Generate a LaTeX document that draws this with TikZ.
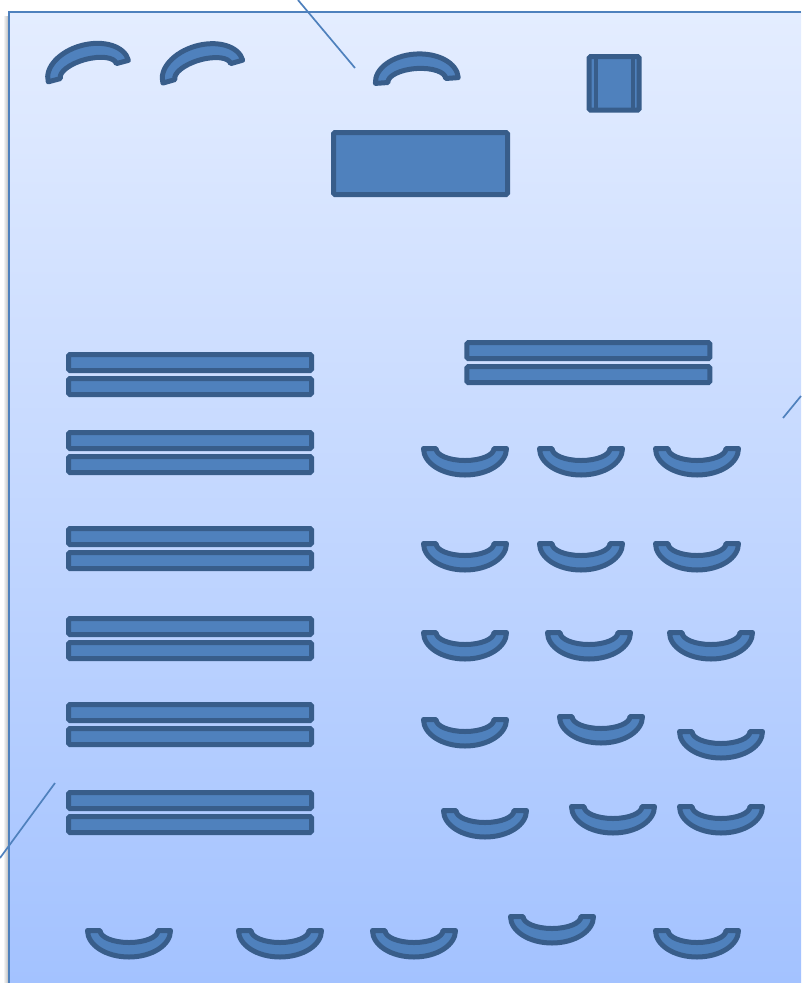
\documentclass[tikz,border=0pt]{standalone}
\definecolor{shapefill}{HTML}{4F81BD}
\definecolor{shapeline}{HTML}{385D8A}
\definecolor{frameline}{HTML}{4F81BD}
\definecolor{bgtop}{HTML}{E4EDFF}
\definecolor{bgbottom}{HTML}{A3C2FF}
\begin{document}
\begin{tikzpicture}[x=1pt,y=-1pt,
  shapestyle/.style={fill=shapefill, draw=shapeline, line width=5pt, line join=round},
  barstyle/.style={fill=shapefill, draw=shapeline, line width=5pt, rounded corners=1.5pt},
  guide/.style={draw=frameline, line width=1.7pt},
  seat/.pic={\path[shapestyle] (-41.5,2.5) arc[start angle=180,end angle=0,x radius=41.5,y radius=26.5]
      -- (29,2.5) arc[start angle=0,end angle=180,x radius=29,y radius=12] -- cycle;}]
\useasboundingbox (0,0) rectangle (801,983);
\fill[white] (0,0) rectangle (801,983);
% shadow and background
\shade[left color=white, right color=black!30] (3,16) rectangle (9,983);
\shade[top color=bgtop, bottom color=bgbottom] (9,12) rectangle (801,983);
\draw[frameline, line width=1.6pt] (801,12) -- (9,12) -- (9,983);
% guide lines
\coordinate (g1a) at (298,0); \coordinate (g1b) at (355,68);
\coordinate (g2a) at (801,396); \coordinate (g2b) at (783,418);
\coordinate (g3a) at (0,858); \coordinate (g3b) at (55,783);
\draw[guide] (g1a) -- (g1b);
\draw[guide] (g2a) -- (g2b);
\draw[guide] (g3a) -- (g3b);
% top frowns
\pic[rotate=195] at (89,73.5) {seat};
\pic[rotate=196] at (203.5,74) {seat};
\pic[rotate=184] at (417,83) {seat};
% big rectangle
\path[barstyle] (333.5,132.5) rectangle (507.5,194.5);
% small process box
\path[barstyle] (589.2,56.5) rectangle (639.2,110.2);
\draw[shapeline, line width=4pt] (595.6,58) -- (595.6,109);
\draw[shapeline, line width=4pt] (633,58) -- (633,109);
% left bar pairs
\foreach \t in {352,430,526,616,702,790}{
  \path[barstyle] (68.5,\t+2.5) rectangle (311.5,\t+18.7);
  \path[barstyle] (68.5,\t+26.5) rectangle (311.5,\t+42.7);
}
% right bar pair
\path[barstyle] (466.8,342.5) rectangle (709.8,358.7);
\path[barstyle] (466.8,366.5) rectangle (709.8,382.7);
% smiles
\foreach \cx/\ty in {465/446,581/446,697/446,
                     465/541,581/541,697/541,
                     465/630,589/630,711/630,
                     465/717,601/714,721/729,
                     485/808,613/804,721/804,
                     129/928,280/928,414/928,552/914,697/928}{
  \pic at (\cx,\ty) {seat};
}
\end{tikzpicture}
\end{document}
